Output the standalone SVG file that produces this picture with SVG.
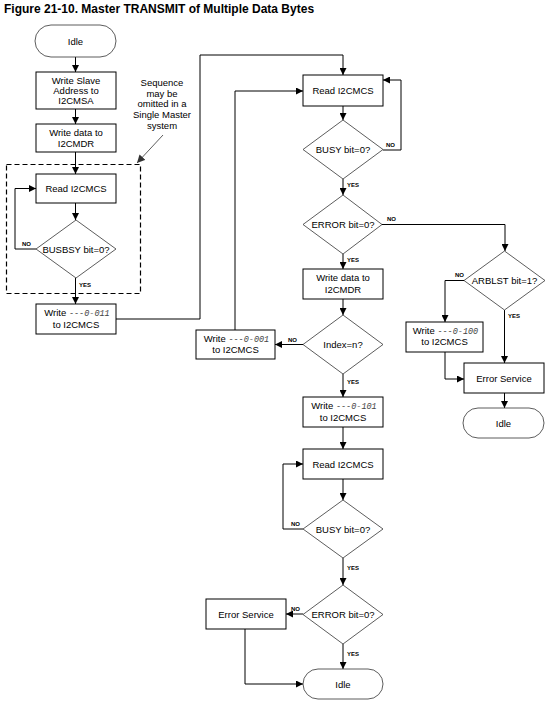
<svg xmlns="http://www.w3.org/2000/svg" width="552" height="706" viewBox="0 0 552 706">
<style>
.box{fill:#fff;stroke:#000;stroke-width:1}
.dia{fill:#fff;stroke:#333;stroke-width:0.8}
.t{font-family:"Liberation Sans",Arial,sans-serif;font-size:9.5px;fill:#000;text-anchor:middle}
.m{font-family:"Liberation Mono","Courier New",monospace;font-size:8.5px;fill:#444}
.i{font-style:italic}
.lb{font-family:"Liberation Sans",Arial,sans-serif;font-size:6px;font-weight:bold;fill:#000}
.c{fill:none;stroke:#000;stroke-width:1}
.title{font-family:"Liberation Sans",Arial,sans-serif;font-size:12px;font-weight:bold;fill:#000}
</style>
<defs>
<marker id="a" viewBox="0 0 10 10" refX="10" refY="5" markerWidth="7" markerHeight="7" markerUnits="userSpaceOnUse" orient="auto">
<path d="M0,0 L10,5 L0,10 z" fill="#000"/>
</marker>
<marker id="g" viewBox="0 0 10 10" refX="10" refY="5" markerWidth="8" markerHeight="8" markerUnits="userSpaceOnUse" orient="auto">
<path d="M0,0 L10,5 L0,10 z" fill="#333"/>
</marker>
</defs>
<rect width="552" height="706" fill="#fff"/>
<text class="title" x="4" y="13">Figure 21-10. Master TRANSMIT of Multiple Data Bytes</text>

<g id="connectors">
<path class="c" d="M75.5,57 V72" marker-end="url(#a)"/>
<path class="c" d="M75.5,109 V124" marker-end="url(#a)"/>
<path class="c" d="M75.5,152 V174" marker-end="url(#a)"/>
<path class="c" d="M75.5,203 V220" marker-end="url(#a)"/>
<path class="c" d="M36,249 H15 V188.5 H36" marker-end="url(#a)"/>
<path class="c" d="M75.5,278 V304" marker-end="url(#a)"/>
<path class="c" d="M116,319 H200 V55 H343 V75" marker-end="url(#a)"/>
<path class="c" d="M343,106 V120" marker-end="url(#a)"/>
<path class="c" d="M383,150 H401 V80 H383" marker-end="url(#a)"/>
<path class="c" d="M343,179 V195" marker-end="url(#a)"/>
<path class="c" d="M382,224.5 H505 V251" marker-end="url(#a)"/>
<path class="c" d="M343,254 V269" marker-end="url(#a)"/>
<path class="c" d="M343,299 V315" marker-end="url(#a)"/>
<path class="c" d="M303,344.5 H275" marker-end="url(#a)"/>
<path class="c" d="M235,330 V91 H303" marker-end="url(#a)"/>
<path class="c" d="M343,374 V397" marker-end="url(#a)"/>
<path class="c" d="M464,280.5 H445 V322" marker-end="url(#a)"/>
<path class="c" d="M504.5,310 V363" marker-end="url(#a)"/>
<path class="c" d="M445,352 V379 H464" marker-end="url(#a)"/>
<path class="c" d="M504.5,393 V408" marker-end="url(#a)"/>
<path class="c" d="M343,427 V449" marker-end="url(#a)"/>
<path class="c" d="M343,479 V500" marker-end="url(#a)"/>
<path class="c" d="M303,529 H283 V464 H303" marker-end="url(#a)"/>
<path class="c" d="M343,558 V585" marker-end="url(#a)"/>
<path class="c" d="M303,614 H286" marker-end="url(#a)"/>
<path class="c" d="M343,644 V669" marker-end="url(#a)"/>
<path class="c" d="M245,629 V684 H303" marker-end="url(#a)"/>
<path d="M163,135 L137,163" fill="none" stroke="#333" stroke-width="0.8" marker-end="url(#g)"/>
<text class="lb" x="22" y="246">NO</text>
<text class="lb" x="79" y="287">YES</text>
<text class="lb" x="386" y="147">NO</text>
<text class="lb" x="347" y="187">YES</text>
<text class="lb" x="387" y="221">NO</text>
<text class="lb" x="347" y="262">YES</text>
<text class="lb" x="288" y="342">NO</text>
<text class="lb" x="347" y="384">YES</text>
<text class="lb" x="455" y="277">NO</text>
<text class="lb" x="508" y="318">YES</text>
<text class="lb" x="291" y="526">NO</text>
<text class="lb" x="347" y="570">YES</text>
<text class="lb" x="291" y="611">NO</text>
<text class="lb" x="347" y="656">YES</text>
</g>

<g id="dashed-region">
<rect x="6.5" y="164.5" width="134" height="129" fill="none" stroke="#000" stroke-width="1.2" stroke-dasharray="5,3"/>
</g>

<g id="note">
<text class="t" x="162" y="86">Sequence</text>
<text class="t" x="162" y="97">may be</text>
<text class="t" x="162" y="107">omitted in a</text>
<text class="t" x="162" y="118">Single Master</text>
<text class="t" x="162" y="129">system</text>
</g>

<g id="idle1">
<rect x="35" y="25" width="81" height="32" rx="16" class="dia"/>
<text class="t" x="75.5" y="44.5">Idle</text>
</g>
<g id="write-slave">
<rect x="36" y="72" width="80" height="37" class="box"/>
<text class="t" x="76" y="84">Write Slave</text>
<text class="t" x="76" y="94">Address to</text>
<text class="t" x="76" y="104">I2CMSA</text>
</g>
<g id="write-data1">
<rect x="36" y="124" width="80" height="28" class="box"/>
<text class="t" x="76" y="136">Write data to</text>
<text class="t" x="76" y="147">I2CMDR</text>
</g>
<g id="read1">
<rect x="36" y="174" width="80" height="29" class="box"/>
<text class="t" x="76" y="192">Read I2CMCS</text>
</g>
<g id="busbsy">
<polygon points="76,220 116,249 76,278 36,249" class="dia"/>
<text class="t" x="76" y="252.5">BUSBSY bit=0?</text>
</g>
<g id="write011">
<rect x="36" y="304" width="80" height="30" class="box"/>
<text class="t" x="77" y="316">Write <tspan class="m">---</tspan><tspan class="m i">0-011</tspan></text>
<text class="t" x="76" y="328">to I2CMCS</text>
</g>

<g id="read2">
<rect x="303" y="75" width="80" height="31" class="box"/>
<text class="t" x="343" y="94">Read I2CMCS</text>
</g>
<g id="busy1">
<polygon points="343,120 383,149.5 343,179 303,149.5" class="dia"/>
<text class="t" x="343" y="153">BUSY bit=0?</text>
</g>
<g id="error1">
<polygon points="343,195 382,224.5 343,254 303,224.5" class="dia"/>
<text class="t" x="343" y="228">ERROR bit=0?</text>
</g>
<g id="write-data2">
<rect x="303" y="269" width="80" height="30" class="box"/>
<text class="t" x="343" y="281">Write data to</text>
<text class="t" x="343" y="293">I2CMDR</text>
</g>
<g id="index">
<polygon points="343,315 383,344.5 343,374 303,344.5" class="dia"/>
<text class="t" x="343" y="348">Index=n?</text>
</g>
<g id="write001">
<rect x="196" y="330" width="79" height="29" class="box"/>
<text class="t" x="236.5" y="342">Write <tspan class="m">---</tspan><tspan class="m i">0-001</tspan></text>
<text class="t" x="235.5" y="353">to I2CMCS</text>
</g>
<g id="write101">
<rect x="303" y="397" width="80" height="30" class="box"/>
<text class="t" x="344" y="409">Write <tspan class="m">---</tspan><tspan class="m i">0-101</tspan></text>
<text class="t" x="343" y="421">to I2CMCS</text>
</g>
<g id="arblst">
<polygon points="504.5,251 545,280.5 504.5,310 464,280.5" class="dia"/>
<text class="t" x="504.5" y="284">ARBLST bit=1?</text>
</g>
<g id="write100">
<rect x="406" y="322" width="77" height="30" class="box"/>
<text class="t" x="445.5" y="334">Write <tspan class="m">---</tspan><tspan class="m i">0-100</tspan></text>
<text class="t" x="444.5" y="345">to I2CMCS</text>
</g>
<g id="error-service1">
<rect x="464" y="363" width="80" height="30" class="box"/>
<text class="t" x="504" y="381.5">Error Service</text>
</g>
<g id="idle2">
<rect x="463" y="408" width="81" height="30" rx="15" class="dia"/>
<text class="t" x="503.5" y="426.5">Idle</text>
</g>

<g id="read3">
<rect x="303" y="449" width="80" height="30" class="box"/>
<text class="t" x="343" y="467.5">Read I2CMCS</text>
</g>
<g id="busy2">
<polygon points="343,500 383,529 343,558 303,529" class="dia"/>
<text class="t" x="343" y="532.5">BUSY bit=0?</text>
</g>
<g id="error2">
<polygon points="343,585 383,614.5 343,644 303,614.5" class="dia"/>
<text class="t" x="343" y="618">ERROR bit=0?</text>
</g>
<g id="error-service2">
<rect x="206" y="599" width="80" height="30" class="box"/>
<text class="t" x="246" y="617.5">Error Service</text>
</g>
<g id="idle3">
<rect x="303" y="669" width="80" height="30" rx="15" class="dia"/>
<text class="t" x="343" y="687.5">Idle</text>
</g>
</svg>
